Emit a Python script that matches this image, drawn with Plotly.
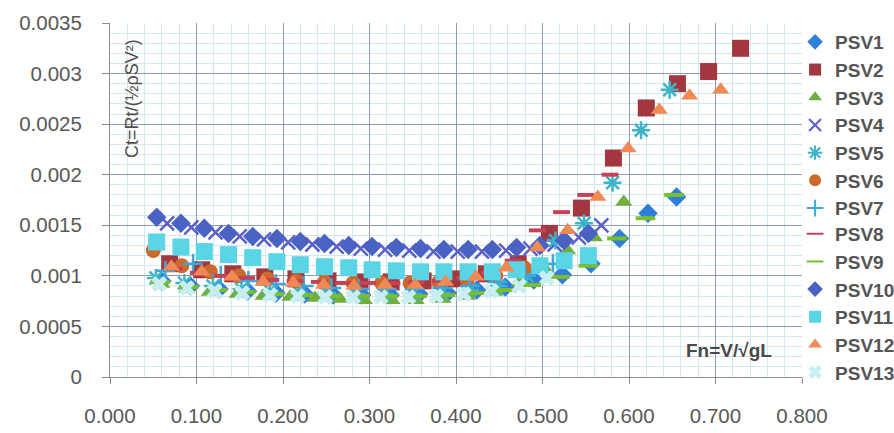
import plotly.graph_objects as go

# ---------------- data ----------------
psv1_x = [0.060, 0.093, 0.126, 0.159, 0.192, 0.225, 0.258, 0.291, 0.324, 0.357, 0.390, 0.424, 0.457, 0.490, 0.523, 0.556, 0.589, 0.622, 0.655]
psv1_y = [0.00095, 0.00090, 0.00087, 0.00085, 0.00083, 0.00082, 0.00081, 0.00081, 0.00081, 0.00082, 0.00083, 0.00086, 0.00089, 0.00096, 0.00101, 0.00112, 0.00137, 0.00162, 0.00178]

psv2_x = [0.069, 0.106, 0.142, 0.179, 0.215, 0.252, 0.289, 0.325, 0.362, 0.398, 0.435, 0.472, 0.508, 0.545, 0.582, 0.620, 0.656, 0.692, 0.729]
psv2_y = [0.00112, 0.00106, 0.00102, 0.00099, 0.00097, 0.00095, 0.00094, 0.00094, 0.00095, 0.00097, 0.00102, 0.00112, 0.00142, 0.00167, 0.002165, 0.00266, 0.00290, 0.00302, 0.00325]

psv3_x = [0.060, 0.089, 0.115, 0.147, 0.177, 0.208, 0.237, 0.266, 0.294, 0.326, 0.354, 0.385, 0.413, 0.445, 0.473, 0.502, 0.529, 0.560, 0.594]
psv3_y = [0.00092, 0.00087, 0.00084, 0.00082, 0.00080, 0.00079, 0.00078, 0.00077, 0.00076, 0.00076, 0.00076, 0.00077, 0.00080, 0.00084, 0.00093, 0.00108, 0.00125, 0.00138, 0.00173]

psv4_x = [0.066, 0.094, 0.122, 0.150, 0.178, 0.206, 0.234, 0.262, 0.290, 0.318, 0.346, 0.374, 0.402, 0.430, 0.458, 0.486, 0.514, 0.542, 0.568]
psv4_y = [0.00152, 0.00148, 0.00143, 0.00139, 0.00136, 0.00133, 0.00131, 0.00129, 0.00127, 0.00126, 0.00125, 0.00124, 0.00124, 0.00124, 0.00125, 0.00127, 0.00131, 0.00138, 0.00150]

psv5_x = [0.053, 0.086, 0.119, 0.152, 0.185, 0.218, 0.251, 0.284, 0.317, 0.350, 0.383, 0.416, 0.449, 0.482, 0.515, 0.548, 0.581, 0.614, 0.647]
psv5_y = [0.00098, 0.00093, 0.00090, 0.00087, 0.00085, 0.00084, 0.00083, 0.00082, 0.00082, 0.00082, 0.00083, 0.00086, 0.00090, 0.00100, 0.00135, 0.00152, 0.00192, 0.00244, 0.00284]

psv6_x = [0.050, 0.083, 0.116, 0.149, 0.182, 0.215, 0.248, 0.281, 0.314, 0.347, 0.380, 0.413, 0.446, 0.479]
psv6_y = [0.00125, 0.00110, 0.00104, 0.00100, 0.00097, 0.00095, 0.00094, 0.00093, 0.00093, 0.00093, 0.00094, 0.00096, 0.00100, 0.00108]

psv7_x = [0.064, 0.096, 0.128, 0.160, 0.192, 0.224, 0.256, 0.288, 0.320, 0.352, 0.384, 0.416, 0.448, 0.480, 0.512]
psv7_y = [0.00105, 0.00112, 0.00100, 0.00095, 0.00092, 0.00090, 0.00088, 0.00087, 0.00087, 0.00087, 0.00088, 0.00090, 0.00094, 0.00100, 0.00112]

psv8_x = [0.074, 0.102, 0.130, 0.158, 0.186, 0.214, 0.242, 0.270, 0.298, 0.326, 0.354, 0.382, 0.410, 0.438, 0.466, 0.494, 0.522, 0.550, 0.578]
psv8_y = [0.00107, 0.00103, 0.00100, 0.00098, 0.00096, 0.00095, 0.00094, 0.00093, 0.00093, 0.00093, 0.00094, 0.00095, 0.00098, 0.00103, 0.00115, 0.00145, 0.00163, 0.00180, 0.00200]

psv9_x = [0.058, 0.091, 0.124, 0.157, 0.190, 0.223, 0.256, 0.289, 0.322, 0.355, 0.388, 0.421, 0.454, 0.487, 0.520, 0.553, 0.586, 0.619, 0.652]
psv9_y = [0.00094, 0.00089, 0.00086, 0.00084, 0.00082, 0.00081, 0.00080, 0.00080, 0.00080, 0.00080, 0.00081, 0.00083, 0.00086, 0.00091, 0.00099, 0.00110, 0.00137, 0.00157, 0.00180]

psv10_x = [0.054, 0.082, 0.109, 0.137, 0.165, 0.193, 0.220, 0.248, 0.276, 0.303, 0.331, 0.359, 0.386, 0.414, 0.442, 0.470, 0.497, 0.525, 0.553]
psv10_y = [0.00158, 0.00152, 0.00147, 0.00142, 0.00139, 0.00137, 0.00134, 0.00132, 0.00130, 0.00129, 0.00128, 0.00127, 0.00126, 0.00126, 0.00126, 0.00128, 0.00130, 0.00135, 0.00142]

psv11_x = [0.054, 0.082, 0.109, 0.137, 0.165, 0.193, 0.220, 0.248, 0.276, 0.303, 0.331, 0.359, 0.386, 0.414, 0.442, 0.470, 0.497, 0.525, 0.553]
psv11_y = [0.001335, 0.001285, 0.00124, 0.00121, 0.00118, 0.00114, 0.00111, 0.00109, 0.00108, 0.00106, 0.00105, 0.00104, 0.00104, 0.00104, 0.00104, 0.00106, 0.00110, 0.00115, 0.00120]

psv12_x = [0.071, 0.106, 0.141, 0.177, 0.212, 0.247, 0.282, 0.318, 0.353, 0.388, 0.423, 0.458, 0.494, 0.529, 0.564, 0.599, 0.635, 0.670, 0.706]
psv12_y = [0.00109, 0.00104, 0.00099, 0.00094, 0.00093, 0.00091, 0.00090, 0.00091, 0.00091, 0.00094, 0.00099, 0.00108, 0.00128, 0.00145, 0.00178, 0.00226, 0.00264, 0.00278, 0.00284]

psv13_x = [0.057, 0.089, 0.121, 0.153, 0.185, 0.217, 0.249, 0.281, 0.313, 0.345, 0.377, 0.409, 0.441, 0.473, 0.505]
psv13_y = [0.00092, 0.00088, 0.00085, 0.00083, 0.00081, 0.00080, 0.00079, 0.00079, 0.00079, 0.00079, 0.00080, 0.00082, 0.00085, 0.00090, 0.00098]

series_names = ["PSV1", "PSV2", "PSV3", "PSV4", "PSV5", "PSV6", "PSV7",
                "PSV8", "PSV9", "PSV10", "PSV11", "PSV12", "PSV13"]

y_tickvals = [0, 0.0005, 0.001, 0.0015, 0.002, 0.0025, 0.003, 0.0035]
y_ticktext = ["0", "0.0005", "0.001", "0.0015", "0.002", "0.0025", "0.003", "0.0035"]
x_tickvals = [0.0, 0.1, 0.2, 0.3, 0.4, 0.5, 0.6, 0.7, 0.8]
x_ticktext = ["0.000", "0.100", "0.200", "0.300", "0.400", "0.500", "0.600", "0.700", "0.800"]

# ---------------- styles ----------------
styles = [
    dict(symbol="diamond", size=15, color="#2F7ED8"),
    dict(symbol="square", size=17, color="#A3373F"),
    dict(symbol="triangle-up", size=15, color="#6FAE3F"),
    dict(symbol="x-thin", size=14, color="#5B5FC7", line=dict(color="#5B5FC7", width=2.5)),
    dict(symbol="asterisk", size=15, color="#3DB5C9", line=dict(color="#3DB5C9", width=2.5)),
    dict(symbol="circle", size=15, color="#CC6A2E"),
    dict(symbol="cross-thin", size=14, color="#3AA8DA", line=dict(color="#3AA8DA", width=2.5)),
    dict(symbol="line-ew", size=12, color="#C34258", line=dict(color="#C34258", width=4)),
    dict(symbol="line-ew", size=14, color="#78BE2E", line=dict(color="#78BE2E", width=4)),
    dict(symbol="diamond", size=15, color="#4A62C4"),
    dict(symbol="square", size=17, color="#5AD5E6"),
    dict(symbol="triangle-up", size=15, color="#F08A55"),
    dict(symbol="x", size=14, color="#C8EEF2"),
]

xs = [psv1_x, psv2_x, psv3_x, psv4_x, psv5_x, psv6_x, psv7_x, psv8_x, psv9_x, psv10_x, psv11_x, psv12_x, psv13_x]
ys = [psv1_y, psv2_y, psv3_y, psv4_y, psv5_y, psv6_y, psv7_y, psv8_y, psv9_y, psv10_y, psv11_y, psv12_y, psv13_y]

fig = go.Figure()
for i, (name, x, y, st) in enumerate(zip(series_names, xs, ys, styles)):
    fig.add_trace(go.Scatter(x=x, y=y, mode="markers", name=name,
                             marker=st, cliponaxis=False,
                             legend="legend" if i < 7 else "legend2"))

font_color = "#595959"
major_grid = "#8D9CB4"
minor_grid = "#D2E8EF"
legend_font = dict(size=19, color="#555555", weight="bold")

fig.update_layout(
    width=894, height=433,
    margin=dict(l=110, r=92, t=23, b=56, autoexpand=False),
    paper_bgcolor="white", plot_bgcolor="white",
    font=dict(family="Liberation Sans, Arial, sans-serif", color=font_color),
    showlegend=True,
    legend=dict(x=0.99, y=1.0, xanchor="left", yanchor="top",
                font=legend_font, bgcolor="rgba(0,0,0,0)",
                itemsizing="constant", tracegroupgap=0),
    legend2=dict(x=0.99, y=0.458, xanchor="left", yanchor="top",
                 font=legend_font, bgcolor="rgba(0,0,0,0)",
                 itemsizing="constant", tracegroupgap=0),
    xaxis=dict(range=[0, 0.8], tickvals=x_tickvals, ticktext=x_ticktext,
               showgrid=True, gridcolor=major_grid, gridwidth=1,
               minor=dict(dtick=0.02, showgrid=True, gridcolor=minor_grid, gridwidth=1),
               showline=True, linecolor="#8C8C8C", linewidth=1,
               ticks="outside", ticklen=6, tickcolor="#8C8C8C",
               ticklabelstandoff=14,
               tickfont=dict(size=20.5, color=font_color),
               zeroline=False),
    yaxis=dict(range=[0, 0.0035], tickvals=y_tickvals, ticktext=y_ticktext,
               showgrid=True, gridcolor=major_grid, gridwidth=1,
               minor=dict(dtick=0.0001, showgrid=True, gridcolor=minor_grid, gridwidth=1),
               showline=True, linecolor="#8C8C8C", linewidth=1,
               ticks="outside", ticklen=7, tickcolor="#8C8C8C",
               ticklabelstandoff=16,
               tickfont=dict(size=20.5, color=font_color),
               zeroline=False),
)

fig.add_annotation(text="Ct=Rt/(½ρSV²)", xref="paper", yref="paper",
                   x=0.031, y=0.96, xanchor="center", yanchor="top",
                   textangle=-90, showarrow=False,
                   font=dict(size=18, color="#505050"))
fig.add_annotation(text="Fn=V/√gL", xref="paper", yref="paper",
                   x=0.96, y=0.04, xanchor="right", yanchor="bottom",
                   showarrow=False,
                   font=dict(size=19, color="#4A4A4A", weight="bold"))

fig.write_html("out.html")
